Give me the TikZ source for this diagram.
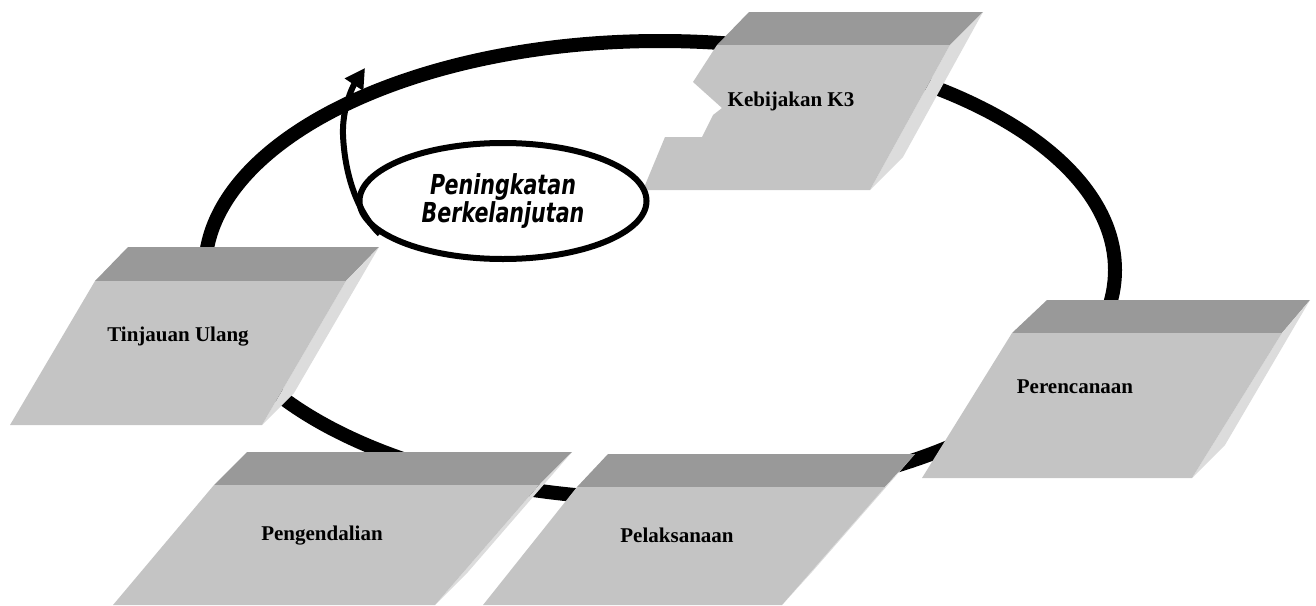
\documentclass[tikz,border=0pt]{standalone}
\usepackage{fontspec}
\setmainfont{Liberation Serif}
\newfontfamily\narrowsans{DejaVu Sans}[FakeStretch=0.75]
\usetikzlibrary{arrows.meta,shapes.geometric}
\definecolor{topgray}{HTML}{999999}
\definecolor{frontgray}{HTML}{C4C4C4}
\definecolor{sidegray}{HTML}{DCDCDC}
\begin{document}
\begin{tikzpicture}[x=1pt,y=-1pt,
    topface/.style={fill=topgray},
    frontface/.style={fill=frontgray},
    sideface/.style={fill=sidegray},
    boxtext/.style={font=\fontsize{21}{25}\selectfont\bfseries,anchor=base,inner sep=0pt}]
            \useasboundingbox (0,0) rectangle (1316,605);
            % cycle
            \draw[line width=14pt] (660,270) ellipse [x radius=455, y radius=229];
            % kebijakan
            \fill[topface] (717,45) -- (950,45) -- (983,12) -- (749,12) -- cycle;
            \fill[sideface] (950,45) -- (983,12) -- (903,157) -- (870,190) -- cycle;
            \fill[frontface] (717,45) -- (950,45) -- (870,190) -- (643,190) -- (665,137) -- (702,137) -- (713,115) -- (722,108) -- (693,82) -- cycle;
            \node[boxtext] (kebijakan) at (791,106) {Kebijakan K3};
            % tinjauan
            \fill[topface] (95,281) -- (346,281) -- (379,247) -- (128,247) -- cycle;
            \fill[sideface] (346,281) -- (379,247) -- (294,393) -- (262,425) -- cycle;
            \fill[frontface] (95,281) -- (346,281) -- (262,425) -- (10,425) -- cycle;
            \node[boxtext] (tinjauan) at (178,341) {Tinjauan Ulang};
            % perencanaan
            \fill[topface] (1012,333) -- (1282,333) -- (1310,300) -- (1047,300) -- cycle;
            \fill[sideface] (1282,333) -- (1310,300) -- (1225,445) -- (1192,478) -- cycle;
            \fill[frontface] (1012,333) -- (1282,333) -- (1192,478) -- (922,478) -- cycle;
            \node[boxtext] (perencanaan) at (1075,393) {Perencanaan};
            % pengendalian
            \fill[topface] (214,485) -- (539,485) -- (572,452) -- (247,452) -- cycle;
            \fill[sideface] (539,485) -- (572,452) -- (468,572) -- (435,605) -- cycle;
            \fill[frontface] (214,485) -- (539,485) -- (435,605) -- (113,605) -- cycle;
            \node[boxtext] (pengendalian) at (322,540) {Pengendalian};
            % pelaksanaan
            \fill[topface] (577,487) -- (885,487) -- (915,454) -- (608,454) -- cycle;
            \fill[sideface] (885,487) -- (915,454) -- (812,572) -- (782,605) -- cycle;
            \fill[frontface] (577,487) -- (885,487) -- (782,605) -- (483,605) -- cycle;
            \node[boxtext] (pelaksanaan) at (677,542) {Pelaksanaan};
            % improvement
            \node[draw,ellipse,line width=6pt,fill=white,minimum width=287,minimum height=116,inner sep=0pt,align=center,
              font=\narrowsans\bfseries\itshape\fontsize{27.5}{28}\selectfont] (peningkatan) at (503,201) {Peningkatan\\Berkelanjutan};
            \coordinate (tip) at (365,68);
            \draw[line width=6pt,-{Triangle[length=20pt,width=21pt]}] (peningkatan.195) .. controls (360,215) and (345,180) .. (343,135) .. controls (342,108) and (353,86) .. (tip);
          \end{tikzpicture}
\end{document}
